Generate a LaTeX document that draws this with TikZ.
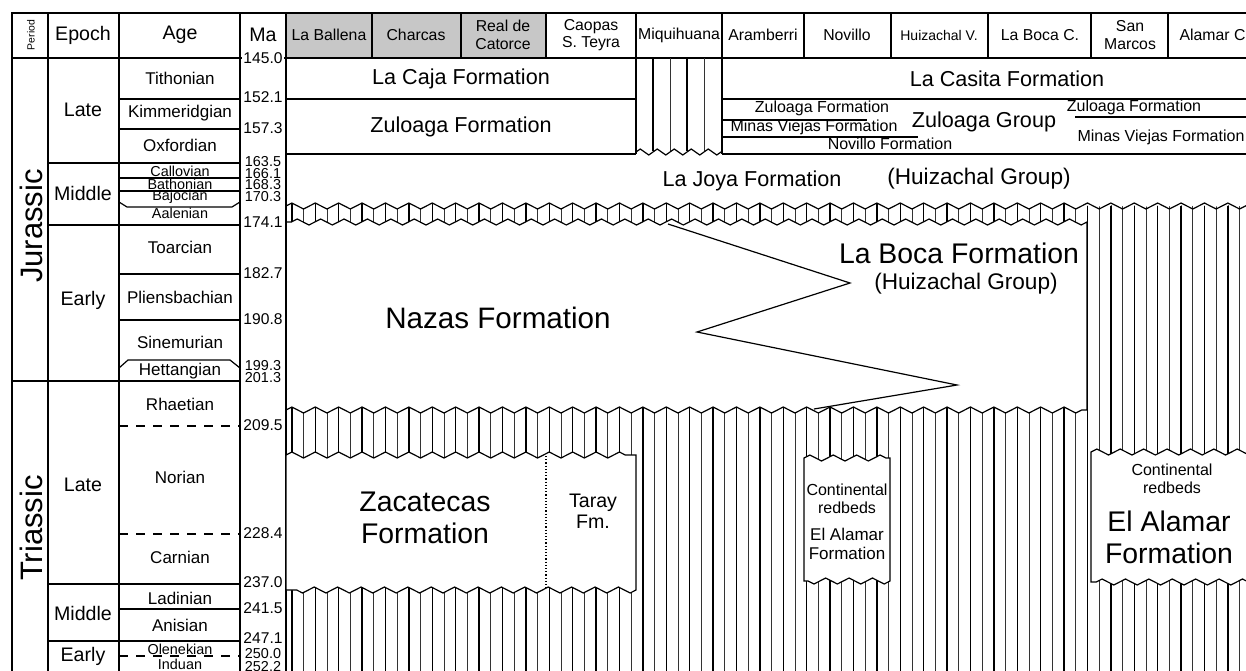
\documentclass[tikz,border=0pt]{standalone}
\usepackage{fontspec}
\setmainfont{Liberation Sans}
\usetikzlibrary{decorations.pathmorphing}

\begin{document}
\begin{tikzpicture}[
  x=0.5pt, y=-0.5pt,
  line width=0.6pt,
  lbl/.style={inner sep=0pt, align=center},
  hdr/.style={lbl, font=\fontsize{7.9}{8.8}\selectfont},
  colhead/.style={lbl, font=\fontsize{9.8}{11}\selectfont},
  period/.style={lbl, rotate=90, font=\fontsize{15.5}{16}\selectfont},
  epoch/.style={lbl, font=\fontsize{9.8}{11}\selectfont},
  age/.style={lbl, font=\fontsize{8.5}{9}\selectfont},
  minor/.style={lbl, font=\fontsize{7.2}{7.5}\selectfont},
  ma/.style={lbl, font=\fontsize{7.8}{8}\selectfont},
  maso/.style={lbl, font=\fontsize{7.2}{7.4}\selectfont},
  fm/.style={lbl, font=\fontsize{10.8}{12}\selectfont},
  big/.style={lbl, font=\fontsize{14.2}{16}\selectfont},
  small/.style={lbl, font=\fontsize{8}{9}\selectfont},
  wavy/.style={decoration={zigzag, segment length=11.7pt, amplitude=1.5pt}},
  wavyq/.style={decoration={zigzag, segment length=8.5pt, amplitude=1.5pt}},
  hatchA/.style={line width=0.7pt},
  hatchB/.style={line width=0.35pt, black!80},
  redbox/.style={fill=white, draw},
  bound/.style={dash pattern=on 4.5pt off 4pt}
]
\useasboundingbox (0,0) rectangle (1246,670);
\clip (0,0) rectangle (1246,670);

% header row
\fill[black!22] (286,13) rectangle (546,58);
\foreach \x in {372,461,546,636,722,804,891,988,1091,1168}
  \draw (\x,13) -- (\x,58);
\node[lbl, rotate=90, font=\fontsize{5.2}{6}\selectfont] (hperiod) at (31,35) {Period};
\node[colhead] (hepoch) at (83,35) {Epoch};
\node[colhead] (hage) at (180,35) {Age};
\node[colhead] (hma) at (263,35) {Ma};
\node[hdr] (hball) at (329,35) {La Ballena};
\node[hdr] (hchar) at (416,35) {Charcas};
\node[hdr] (hreal) at (503,35) {Real de\\Catorce};
\node[hdr] (hcaop) at (591,35) {Caopas\\S. Teyra};
\node[hdr] (hmiqu) at (679,35) {Miquihuana};
\node[hdr] (haram) at (763,35) {Aramberri};
\node[hdr] (hnovi) at (847,35) {Novillo};
\node[lbl, font=\fontsize{7}{8}\selectfont] (hhuiz) at (939,35) {Huizachal V.};
\node[hdr] (hboca) at (1040,35) {La Boca C.};
\node[hdr] (hsanm) at (1130,35) {San\\Marcos};
\node[hdr, anchor=west] (halam) at (1179,35) {Alamar C};

% time scale columns
\draw (12,58) -- (1260,58);
\foreach \x in {48,119,240,286}
  \draw (\x,13) -- (\x,700);
\draw (12,381) -- (240,381);
\foreach \y in {163,225,584,641}
  \draw (48,\y) -- (240,\y);
\foreach \y in {99,129,178,191,274,320,609}
  \draw (119,\y) -- (240,\y);
\draw (119,202) -- (127,207) -- (232,207) -- (240,202);
\draw (119,368) -- (128,360) -- (230,360) -- (240,368);
\foreach \y in {426,534,656}
  \draw[bound] (119,\y) -- (240,\y);

\node[period] (jura) at (31,226) {Jurassic};
\node[period] (tria) at (31,528) {Triassic};

\node[epoch] (ejl) at (83,110) {Late};
\node[epoch] (ejm) at (83,193) {Middle};
\node[epoch] (eje) at (83,300) {Early};
\node[epoch] (etl) at (83,485) {Late};
\node[epoch] (etm) at (83,613) {Middle};
\node[epoch] (ete) at (83,656) {Early};

\node[age] (tith) at (180,78) {Tithonian};
\node[age] (kimm) at (180,113) {Kimmeridgian};
\node[age] (oxfo) at (180,145) {Oxfordian};
\node[minor] (call) at (180,171) {Callovian};
\node[minor] (bath) at (180,184) {Bathonian};
\node[minor] (bajo) at (180,197) {Bajocian};
\node[minor] (aale) at (180,213) {Aalenian};
\node[age] (toar) at (180,247) {Toarcian};
\node[age] (plie) at (180,297) {Pliensbachian};
\node[age] (sine) at (180,342) {Sinemurian};
\node[age] (hett) at (180,371) {Hettangian};
\node[age] (rhae) at (180,404) {Rhaetian};
\node[age] (nori) at (180,477) {Norian};
\node[age] (carn) at (180,557) {Carnian};
\node[age] (ladi) at (180,598) {Ladinian};
\node[age] (anis) at (180,625) {Anisian};
\node[minor, fill=white] (olen) at (180,649) {Olenekian};
\node[minor] (indu) at (180,664) {Induan};

\node[ma, fill=white, inner xsep=0.6pt] (ma145) at (263,58) {145.0};
\foreach \y/\t in {97/152.1,128/157.3,222/174.1,273/182.7,319/190.8,425/209.5,
    533/228.4,582/237.0,608/241.5,638/247.1}
  \node[ma] (ma\t) at (263,\y) {\t};
\foreach \y/\t in {162/163.5,173.5/166.1,185/168.3,196.5/170.3,366/199.3,378/201.3,
    654/250.0,667/252.2}
  \node[maso] (ma\t) at (263,\y) {\t};

% upper formations
\draw (286,99) -- (636,99);
\draw (286,154) -- (636,154);
\draw (722,154) -- (1260,154);
\draw (722,99) -- (1260,99);
\draw (636,58) -- (636,154);
\draw (722,58) -- (722,154);
\foreach \x in {653,687}
  \draw[hatchA] (\x,58) -- (\x,151);
\foreach \x in {670,704}
  \draw[hatchB] (\x,58) -- (\x,151);
\draw[wavyq] (636,152) decorate {-- (722,152)};
\draw (722,120) -- (867,120);
\draw (722,137) -- (918,137);
\draw (1075,117) -- (1260,117);

\node[fm] (lacaja) at (461,79) {La Caja Formation};
\node[fm] (zuloL) at (461,127) {Zuloaga Formation};
\node[fm] (casita) at (1007,79) {La Casita Formation};
\node[small] (zuloA) at (822,108) {Zuloaga Formation};
\node[small] (minasA) at (814,127) {Minas Viejas Formation};
\node[small] (novillo) at (890,144) {Novillo Formation};
\node[fm] (zgroup) at (984,122) {Zuloaga Group};
\node[small] (zuloB) at (1134,107) {Zuloaga Formation};
\node[small] (minasB) at (1161,137) {Minas Viejas Formation};
\node[fm] (lajoya) at (752,181) {La Joya Formation};
\node[lbl, font=\fontsize{11.3}{12}\selectfont] (huizA) at (979,179) {(Huizachal Group)};

% hiatus hatching
\begin{scope}[wavy]
  \clip (286,206) decorate {-- (1087,206)} -- (1087,222) decorate {-- (286,222)} -- cycle
        (286,410) decorate {-- (1087,410)} -- (1087,206) decorate {-- (1260,206)}
        -- (1260,700) -- (286,700) -- cycle;
  \foreach \x in {291.85,315.25,...,1260}
    \draw[hatchA] (\x,190) -- (\x,700);
  \foreach \x in {303.55,326.95,...,1260}
    \draw[hatchB] (\x,190) -- (\x,700);
\end{scope}
\draw[wavy] (286,206) decorate {-- (1260,206)};
\draw[wavy] (286,410) decorate {-- (1087,410)} -- (1087,222) decorate {-- (286,222)};

\draw (668,224) -- (850,283) -- (697,332) -- (957,385) -- (814,409);
\node[lbl, font=\fontsize{14.8}{16}\selectfont] (nazas) at (498,318) {Nazas Formation};
\node[big] (laboca) at (959,253) {La Boca Formation};
\node[lbl, font=\fontsize{11.3}{12}\selectfont] (huizB) at (966,284) {(Huizachal Group)};

% Triassic units
\filldraw[redbox, wavy] (286,455) decorate {-- (636,455)} -- (636,590) decorate {-- (286,590)} -- cycle;
\draw[densely dotted] (546,456) -- (546,589);
\filldraw[redbox, wavy] (804,458) decorate {-- (890,458)} -- (890,581) decorate {-- (804,581)} -- cycle;
\filldraw[redbox, wavy] (1091,452) decorate {-- (1260,452)} -- (1260,582) decorate {-- (1091,582)} -- cycle;

\node[big] (zacat) at (425,518) {Zacatecas\\Formation};
\node[lbl, font=\fontsize{9.8}{10.6}\selectfont] (taray) at (593,511) {Taray\\Fm.};
\node[small] (redA) at (847,499) {Continental\\redbeds};
\node[lbl, font=\fontsize{8.5}{9.2}\selectfont] (alamA) at (847,544) {El Alamar\\Formation};
\node[small] (redB) at (1172,479) {Continental\\redbeds};
\node[big] (alamB) at (1169,537) {El Alamar\\Formation};

% frame
\draw[line width=1.3pt] (12,700) -- (12,13) -- (1260,13);
\end{tikzpicture}
\end{document}
